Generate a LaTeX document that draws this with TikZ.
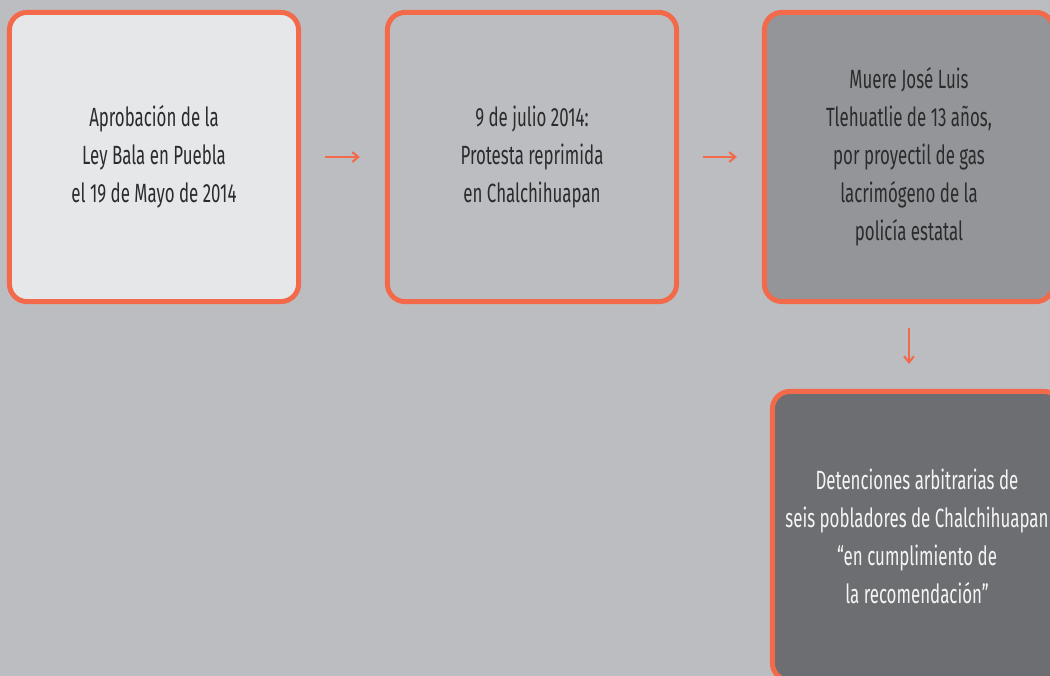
\documentclass[tikz,border=0pt]{standalone}
\usepackage{fontspec}
\setmainfont{Fira Sans}[FakeStretch=0.64]
\usetikzlibrary{arrows.meta}
\definecolor{cline}{HTML}{F26A4A}
\definecolor{cbg}{HTML}{BCBDC0}
\definecolor{cone}{HTML}{E6E7E8}
\definecolor{cthree}{HTML}{939598}
\definecolor{cfour}{HTML}{6D6E71}
\definecolor{ctext}{HTML}{2B2B2D}
\tikzset{
  every picture/.style={x=0.01cm, y=-0.01cm, font=\fontsize{7.5}{10.8}\selectfont},
  evt/.style={draw=cline, line width=1.42pt, rounded corners=5pt, inner sep=0pt,
    minimum width=2.89cm, minimum height=2.89cm, align=center, text=ctext},
  lnk/.style={cline, line width=0.6pt, -{Straight Barb[length=1.7pt,width=2.8pt]},
    shorten <=0.24cm, shorten >=0.25cm},
}
\begin{document}
\begin{tikzpicture}
  \useasboundingbox (0,0) rectangle (1050,676);
  \clip (0,0) rectangle (1050,676);
  \fill[cbg] (0,0) rectangle (1050,676);
  \node[evt, fill=cone] (ley) at (154,157)
    {Aprobación de la\\Ley Bala en Puebla\\el 19 de Mayo de 2014};
  \node[evt, fill=cbg] (pro) at (532,157)
    {9 de julio 2014:\\Protesta reprimida\\en Chalchihuapan};
  \node[evt, fill=cthree] (mue) at (909,157)
    {Muere José Luis\\Tlehuatlie de 13 años,\\por proyectil de gas\\lacrimógeno de la\\policía estatal};
  \node[evt, fill=cfour, text=white!93!cfour] (det) at (917,536)
    {Detenciones arbitrarias de\\seis pobladores de Chalchihuapan\\“en cumplimiento de\\la recomendación”};
  \draw[lnk] (ley) -- (pro);
  \draw[lnk] (pro) -- (mue);
  \draw[lnk] (mue.south) -- (mue.south |- det.north);
\end{tikzpicture}
\end{document}
